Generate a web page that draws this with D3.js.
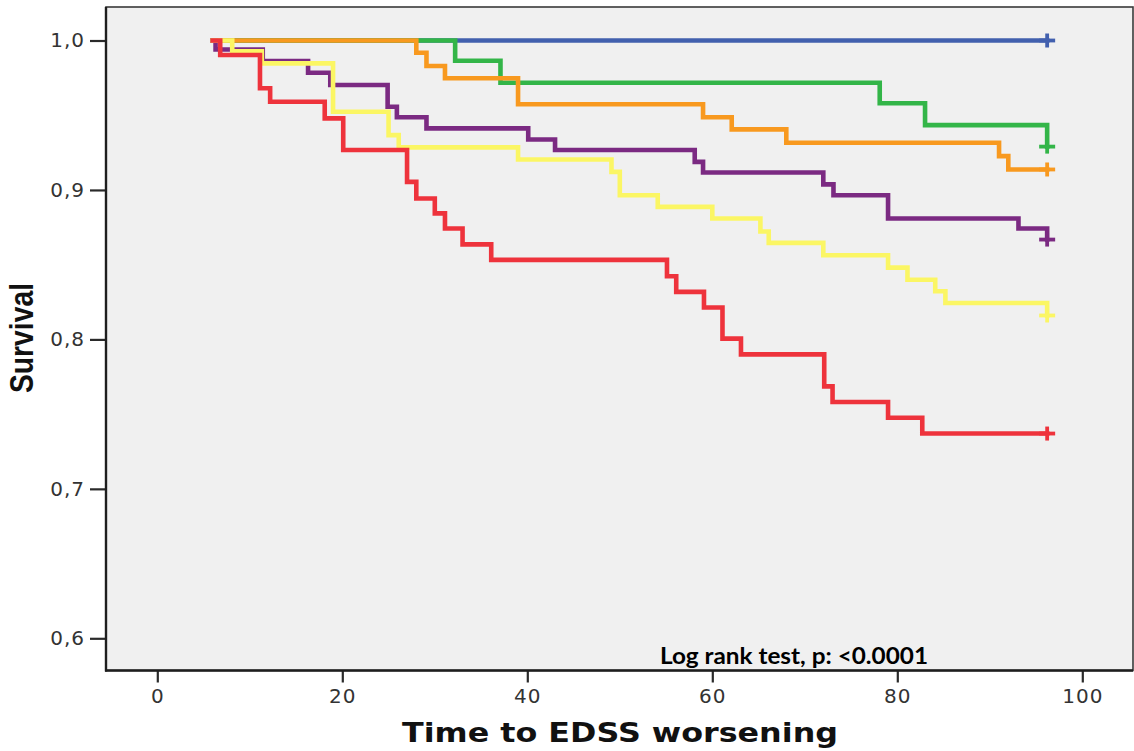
<!DOCTYPE html>
<html>
<head>
<meta charset="utf-8">
<script src="https://cdn.jsdelivr.net/npm/d3@7"></script>
<style>
  html, body { margin: 0; padding: 0; background: #ffffff; }
  svg { display: block; }
</style>
</head>
<body>
<svg id="chart" width="1134" height="751"></svg>
<script>
// Kaplan-Meier estimates of time to EDSS worsening, one curve per group.
// Each curve: survival steps down to the listed value at the listed time.
const curveStart = 6.0;
const curveEnd = 96.2;

const blueTimes = [];
const blueSurvival = [];

const greenTimes = [32.2, 37.1, 78.1, 83.0, 96.2];
const greenSurvival = [0.9865, 0.9717, 0.958, 0.9434, 0.929];

const orangeTimes = [28.0, 29.1, 31.1, 39.0, 59.0, 62.1, 68.0, 91.0, 92.0];
const orangeSurvival = [0.9918, 0.9829, 0.9747, 0.9573, 0.9486, 0.9405, 0.9316, 0.9226, 0.9137];

const purpleTimes = [6.3, 11.4, 16.3, 18.7, 24.9, 25.9, 29.1, 40.1, 43.0, 58.1, 59.0, 72.0, 73.1, 79.0, 93.1, 96.2];
const purpleSurvival = [0.9940, 0.9863, 0.9784, 0.9702, 0.9557, 0.9486, 0.9412, 0.9338, 0.9267, 0.9188, 0.9117, 0.9037, 0.8965, 0.8809, 0.8742, 0.8668];

const yellowTimes = [8.1, 11.3, 19.0, 25.0, 26.1, 39.0, 49.1, 50.0, 54.1, 60.0, 65.2, 66.1, 72.0, 79.0, 81.1, 84.1, 85.2, 96.2];
const yellowSurvival = [0.9928, 0.9847, 0.9523, 0.9367, 0.9285, 0.9204, 0.9121, 0.8965, 0.8887, 0.8809, 0.8722, 0.8646, 0.8563, 0.848, 0.8399, 0.8322, 0.8244, 0.816];

const redTimes = [6.8, 11.1, 12.2, 18.1, 20.1, 27.0, 28.0, 30.0, 31.1, 33.0, 36.1, 55.1, 56.1, 59.1, 61.1, 63.1, 72.1, 73.0, 79.0, 82.7];
const redSurvival = [0.9903, 0.968, 0.959, 0.9479, 0.9267, 0.9054, 0.8943, 0.8843, 0.8742, 0.8636, 0.8532, 0.8423, 0.8318, 0.8213, 0.8005, 0.79, 0.7686, 0.7581, 0.7476, 0.737];

const xTickValues = [0, 20, 40, 60, 80, 100];
const yTickValues = [0.6, 0.7, 0.8, 0.9, 1.0];

const xTitle = "Time to EDSS worsening";
const yTitle = "Survival";
const testNote = "Log rank test, p: <0.0001";

// drawn in this order, later curves on top
const curves = [
  { color: "#4260ae", times: blueTimes, surv: blueSurvival },
  { color: "#33b548", times: greenTimes, surv: greenSurvival },
  { color: "#f8991f", times: orangeTimes, surv: orangeSurvival },
  { color: "#7b2a82", times: purpleTimes, surv: purpleSurvival },
  { color: "#fbf664", times: yellowTimes, surv: yellowSurvival },
  { color: "#ee333c", times: redTimes, surv: redSurvival }
];

const svg = d3.select("#chart");

// plot frame
const frame = { left: 106, right: 1133, top: 7, bottom: 670.5 };

const x = d3.scaleLinear().domain([0, 100]).range([157.3, 1082.3]);
const y = d3.scaleLinear().domain([0.6, 1.0]).range([638.3, 40.5]);

svg.append("rect")
  .attr("x", frame.left).attr("y", frame.top)
  .attr("width", frame.right - frame.left)
  .attr("height", frame.bottom - frame.top)
  .attr("fill", "#f0f0f0")
  .attr("stroke", "#3a3a3a")
  .attr("stroke-width", 1.6);

// axes
const tickFont = "'DejaVu Sans', Verdana, sans-serif";

const xAxis = svg.append("g")
  .attr("transform", `translate(0,${frame.bottom})`)
  .call(d3.axisBottom(x).tickValues(xTickValues).tickSize(12).tickPadding(6).tickFormat(d3.format("d")));
xAxis.select(".domain").remove();

const yAxis = svg.append("g")
  .attr("transform", `translate(${frame.left},0)`)
  .call(d3.axisLeft(y).tickValues(yTickValues).tickSize(16).tickPadding(5)
    .tickFormat(d => d3.format(".1f")(d).replace(".", ",")));
yAxis.select(".domain").remove();

svg.selectAll(".tick line").attr("stroke", "#2a2a2a").attr("stroke-width", 2.2);
svg.selectAll(".tick text")
  .attr("fill", "#333")
  .style("font-family", tickFont)
  .style("font-size", "20px")
  .style("letter-spacing", "1px");

// thicker left and bottom axis lines
svg.append("line")
  .attr("x1", frame.left).attr("x2", frame.left)
  .attr("y1", frame.top).attr("y2", frame.bottom + 1)
  .attr("stroke", "#1e1e1e").attr("stroke-width", 2.4);
svg.append("line")
  .attr("x1", frame.left - 1).attr("x2", frame.right)
  .attr("y1", frame.bottom).attr("y2", frame.bottom)
  .attr("stroke", "#1e1e1e").attr("stroke-width", 2.4);

// survival step curves
const line = d3.line()
  .x(d => x(d[0]))
  .y(d => y(d[1]))
  .curve(d3.curveStepAfter);

const plot = svg.append("g");

curves.forEach(c => {
  const pts = [[curveStart, 1.0]];
  c.times.forEach((t, i) => pts.push([t, c.surv[i]]));
  const last = c.surv.length ? c.surv[c.surv.length - 1] : 1.0;
  pts.push([curveEnd, last]);

  plot.append("path")
    .attr("d", line(pts))
    .attr("fill", "none")
    .attr("stroke", c.color)
    .attr("stroke-width", 4.6)
    .attr("stroke-linejoin", "miter")
    .attr("stroke-linecap", "square");

  // censor mark at the end of follow-up
  const cx = x(curveEnd), cy = y(last);
  plot.append("line")
    .attr("x1", cx - 8).attr("x2", cx + 8)
    .attr("y1", cy).attr("y2", cy)
    .attr("stroke", c.color).attr("stroke-width", 3.8);
  plot.append("line")
    .attr("x1", cx).attr("x2", cx)
    .attr("y1", cy - 7).attr("y2", cy + 7)
    .attr("stroke", c.color).attr("stroke-width", 3.8);
});

// log rank annotation
svg.append("text")
  .attr("x", 660).attr("y", 664)
  .attr("textLength", 268)
  .attr("lengthAdjust", "spacingAndGlyphs")
  .attr("fill", "#000")
  .style("font-family", "Lato, 'Open Sans', sans-serif")
  .style("font-weight", "bold")
  .style("font-size", "23px")
  .text(testNote);

// axis titles
svg.append("text")
  .attr("x", 620).attr("y", 742)
  .attr("text-anchor", "middle")
  .attr("textLength", 436)
  .attr("lengthAdjust", "spacingAndGlyphs")
  .attr("fill", "#111")
  .style("font-family", "'DejaVu Sans', Verdana, sans-serif")
  .style("font-weight", "bold")
  .style("font-size", "26px")
  .text(xTitle);

svg.append("text")
  .attr("transform", "translate(33,338) rotate(-90)")
  .attr("text-anchor", "middle")
  .attr("textLength", 110)
  .attr("lengthAdjust", "spacingAndGlyphs")
  .attr("fill", "#111")
  .style("font-family", "'Liberation Sans Narrow', 'Liberation Sans', Arial, sans-serif")
  .style("font-weight", "bold")
  .style("font-size", "34px")
  .text(yTitle);
</script>
</body>
</html>
